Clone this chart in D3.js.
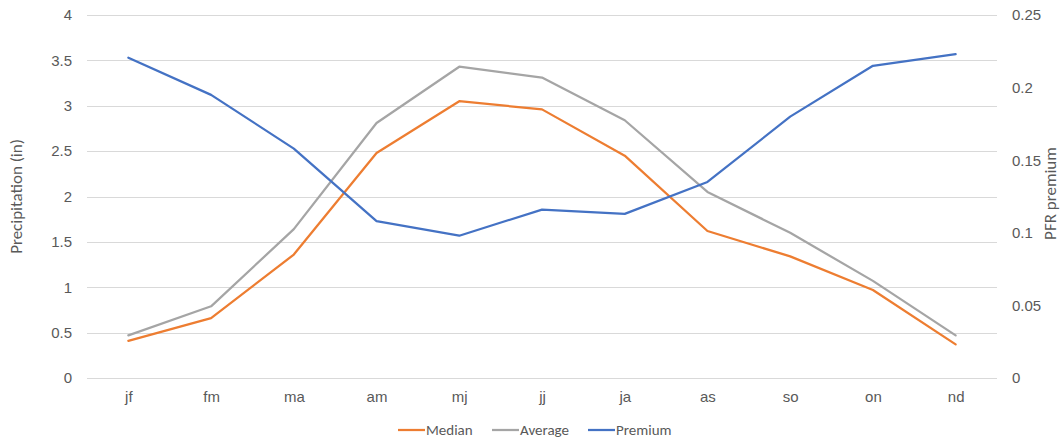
<!DOCTYPE html>
<html>
<head>
<meta charset="utf-8">
<script src="https://cdn.jsdelivr.net/npm/d3@7"></script>
<style>
  html, body { margin: 0; padding: 0; background: #fff; }
  svg { display: block; font-family: Carlito, Calibri, Lato, "Open Sans", sans-serif; }
</style>
</head>
<body>
<svg id="chart" width="1063" height="439"></svg>
<script>
// Two-month windows
const categories = ["jf", "fm", "ma", "am", "mj", "jj", "ja", "as", "so", "on", "nd"];

// Precipitation (inches)
const median  = [0.41, 0.66, 1.36, 2.48, 3.05, 2.96, 2.45, 1.62, 1.34, 0.97, 0.37];
const average = [0.47, 0.79, 1.64, 2.81, 3.43, 3.31, 2.84, 2.05, 1.60, 1.07, 0.47];

// PFR premium (right axis)
const premium = [0.2206, 0.195, 0.158, 0.108, 0.098, 0.116, 0.113, 0.135, 0.180, 0.215, 0.223];

const leftTicks  = [0, 0.5, 1, 1.5, 2, 2.5, 3, 3.5, 4];
const rightTicks = [0, 0.05, 0.1, 0.15, 0.2, 0.25];

const series = [
  { name: "Median",  values: median,  axis: "left",  color: "#ED7D31" },
  { name: "Average", values: average, axis: "left",  color: "#A5A5A5" },
  { name: "Premium", values: premium, axis: "right", color: "#4472C4" }
];

const svg = d3.select("#chart");
const m = { left: 87, right: 997, top: 15, bottom: 378 };

const x = d3.scalePoint().domain(categories).range([m.left, m.right]).padding(0.5);
const yL = d3.scaleLinear().domain([0, 4]).range([m.bottom, m.top]);
const yR = d3.scaleLinear().domain([0, 0.25]).range([m.bottom, m.top]);

const textColor = "#595959";
const tickSize = "15px";
const titleSize = "17px";

// Gridlines
svg.append("g")
  .selectAll("line")
  .data(leftTicks)
  .join("line")
  .attr("x1", m.left).attr("x2", m.right)
  .attr("y1", d => Math.round(yL(d)) + 0.5)
  .attr("y2", d => Math.round(yL(d)) + 0.5)
  .attr("stroke", "#D9D9D9")
  .attr("stroke-width", 1);

// Left axis
const axL = svg.append("g")
  .attr("transform", `translate(${m.left - 15},0)`)
  .call(d3.axisLeft(yL).tickValues(leftTicks).tickSize(0).tickPadding(0).tickFormat(d3.format("")));
axL.select(".domain").remove();
axL.selectAll("text").attr("fill", textColor).style("font-size", tickSize);

// Right axis
const axR = svg.append("g")
  .attr("transform", `translate(${m.right + 15},0)`)
  .call(d3.axisRight(yR).tickValues(rightTicks).tickSize(0).tickPadding(0).tickFormat(d3.format("")));
axR.select(".domain").remove();
axR.selectAll("text").attr("fill", textColor).style("font-size", tickSize);

// Category axis
const axX = svg.append("g")
  .attr("transform", `translate(0,${m.bottom + 13})`)
  .call(d3.axisBottom(x).tickSize(0).tickPadding(0));
axX.select(".domain").remove();
axX.selectAll("text").attr("fill", textColor).style("font-size", tickSize);

// Axis titles
svg.append("text")
  .attr("transform", `translate(22,${(m.top + m.bottom) / 2}) rotate(-90)`)
  .attr("text-anchor", "middle")
  .attr("fill", textColor)
  .style("font-size", titleSize)
  .text("Precipitation (in)");

svg.append("text")
  .attr("transform", `translate(1056,${(m.top + m.bottom) / 2 - 3}) rotate(-90)`)
  .attr("text-anchor", "middle")
  .attr("fill", textColor)
  .style("font-size", titleSize)
  .text("PFR premium");

// Lines
series.forEach(s => {
  const y = s.axis === "left" ? yL : yR;
  const line = d3.line()
    .x((d, i) => x(categories[i]))
    .y(d => y(d));
  svg.append("path")
    .datum(s.values)
    .attr("d", line)
    .attr("fill", "none")
    .attr("stroke", s.color)
    .attr("stroke-width", 2.25)
    .attr("stroke-linejoin", "round")
    .attr("stroke-linecap", "round");
});

// Legend
const legendItems = [
  { x: 398, s: series[0] },
  { x: 492, s: series[1] },
  { x: 588, s: series[2] }
];
const lg = svg.append("g").attr("transform", "translate(0,430)");
legendItems.forEach(it => {
  lg.append("line")
    .attr("x1", it.x).attr("x2", it.x + 27)
    .attr("y1", 0).attr("y2", 0)
    .attr("stroke", it.s.color)
    .attr("stroke-width", 2.25);
  lg.append("text")
    .attr("x", it.x + 28)
    .attr("y", 0)
    .attr("dy", "0.35em")
    .attr("fill", textColor)
    .style("font-size", tickSize)
    .text(it.s.name);
});
</script>
</body>
</html>
